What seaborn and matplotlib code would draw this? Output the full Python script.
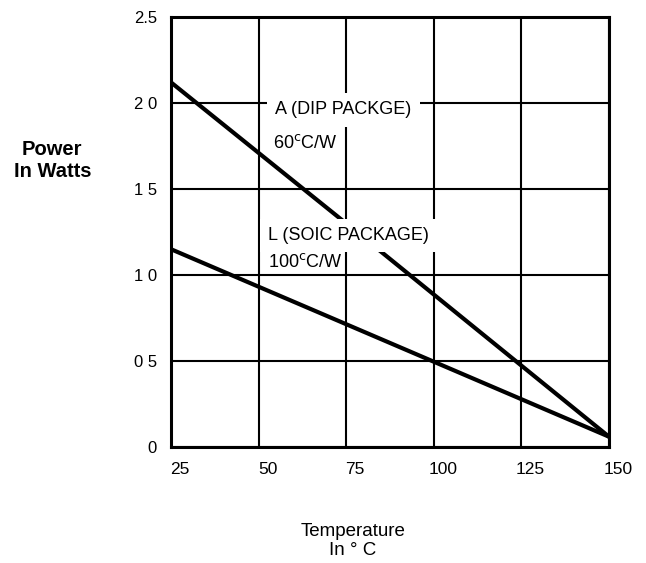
import pandas as pd
import matplotlib
matplotlib.use("Agg")
import matplotlib.pyplot as plt
import matplotlib.transforms as mtransforms
import seaborn as sns

# Derating curve data
temp_c = [25, 75, 150]
dip_watts = [2.12, 1.30, 0.06]
soic_temp = [25, 150]
soic_watts = [1.15, 0.06]

x_ticks = [25, 50, 75, 100, 125, 150]
y_ticks = [0, 0.5, 1.0, 1.5, 2.0, 2.5]
y_tick_labels = ["0", "0 5", "1 0", "1 5", "2 0", "2.5"]

sns.set_style("white")
plt.rcParams['font.family'] = ['Liberation Sans', 'DejaVu Sans']
plt.rcParams['text.color'] = 'black'
plt.rcParams['xtick.color'] = 'black'
plt.rcParams['ytick.color'] = 'black'

df = pd.concat([
    pd.DataFrame({"Temperature": temp_c, "Power": dip_watts, "Package": "A"}),
    pd.DataFrame({"Temperature": soic_temp, "Power": soic_watts, "Package": "L"}),
])

f = plt.figure(figsize=(6.46, 5.63), dpi=100)
ax = f.add_axes([0.2647, 0.206, 0.678, 0.7638])

sns.lineplot(data=df, x="Temperature", y="Power", units="Package", estimator=None,
             color="black", linewidth=3, ax=ax, legend=False, zorder=3)

ax.set_xlim(25, 150)
ax.set_ylim(0, 2.5)
ax.set_xticks(x_ticks)
ax.set_yticks(y_ticks)
ax.set_yticklabels(y_tick_labels)
ax.grid(True, color="black", linewidth=1.5)
for s in ax.spines.values():
    s.set_color("black")
    s.set_linewidth(2.2)
ax.tick_params(axis="x", length=0, pad=11, labelsize=12.5, labelcolor="black")
ax.tick_params(axis="y", length=0, pad=10, labelsize=12, labelcolor="black")
ax.set_xlabel("")
ax.set_ylabel("")

# x tick labels sit a little right of their gridlines in the scan
shift = mtransforms.ScaledTranslation(0.09, 0, f.dpi_scale_trans)
for lbl in ax.get_xticklabels():
    lbl.set_transform(lbl.get_transform() + shift)

box_a = dict(facecolor="white", edgecolor="none", pad=6)
box_l = dict(facecolor="white", edgecolor="none", pad=5.5)
box_s = dict(facecolor="white", edgecolor="none", pad=1)
ax.text(54.7, 1.96, "A (DIP PACKGE)", fontsize=13, va="center", ha="left", bbox=box_a, zorder=4)
ax.text(54.1, 1.77, "60$^{\\mathrm{c}}$C/W", fontsize=13, va="center", ha="left", bbox=box_s, zorder=4)
ax.text(52.7, 1.23, "L (SOIC PACKAGE)", fontsize=13, va="center", ha="left", bbox=box_l, zorder=4)
ax.text(52.7, 1.075, "100$^{\\mathrm{c}}$C/W", fontsize=13, va="center", ha="left", bbox=box_s, zorder=5)

f.text(0.081, 0.715, "Power\nIn Watts", fontsize=14.5, fontweight="bold", ha="center", va="center",
       linespacing=1.25)
f.text(0.546, 0.039, "Temperature\nIn \u00b0 C", fontsize=13.5, ha="center", va="center",
       linespacing=1.1)

plt.savefig("out.png", dpi=100)
